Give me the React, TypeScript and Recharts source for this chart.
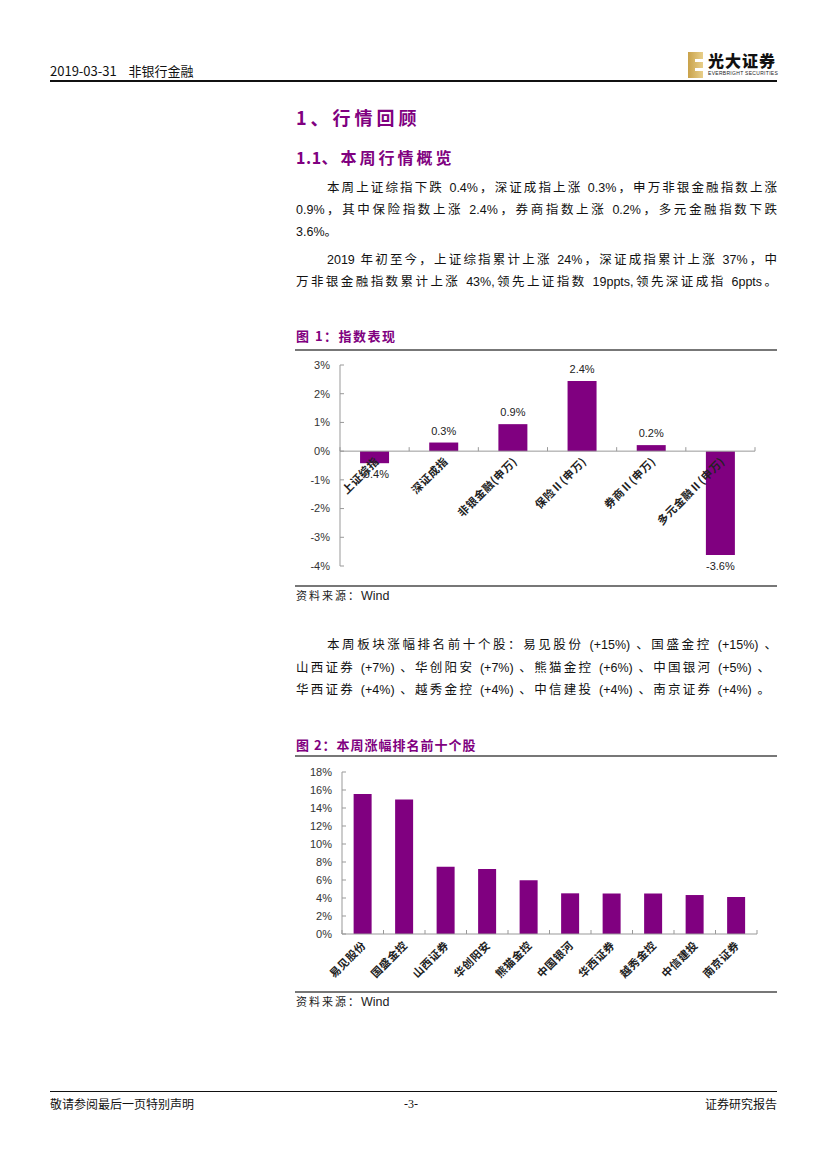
import { BarChart, Bar, XAxis, YAxis, ReferenceLine, LabelList } from "recharts";

// 图1 指数表现
const INDEX_NAMES = ["上证综指", "深证成指", "非银金融(申万)", "保险Ⅱ(申万)", "券商Ⅱ(申万)", "多元金融Ⅱ(申万)"];
const INDEX_CHANGE = [-0.42, 0.3, 0.94, 2.44, 0.21, -3.62];
const INDEX_TICKS = [-4, -3, -2, -1, 0, 1, 2, 3];

// 图2 本周涨幅排名前十个股
const STOCK_NAMES = ["易见股份", "国盛金控", "山西证券", "华创阳安", "熊猫金控", "中国银河", "华西证券", "越秀金控", "中信建投", "南京证券"];
const STOCK_CHANGE = [15.55, 14.95, 7.48, 7.22, 5.96, 4.52, 4.5, 4.5, 4.33, 4.11];
const STOCK_TICKS = [0, 2, 4, 6, 8, 10, 12, 14, 16, 18];

const PURPLE = "#800080";
const SANS = "'Liberation Sans', Arial, 'Noto Sans CJK SC', sans-serif";
const CJK = "'Noto Sans CJK SC', 'Liberation Sans', sans-serif";

const indexData = INDEX_NAMES.map((name, i) => ({ name, value: INDEX_CHANGE[i] }));
const stockData = STOCK_NAMES.map((name, i) => ({ name, value: STOCK_CHANGE[i] }));

// chart 1 geometry
const C1_W = 480;
const C1_H = 231;
const C1_MARGIN = { top: 10, right: 15, bottom: 0, left: 0 };
const C1_YW = 50;
const C1_XH = 20;
const C1_PLOT_W = C1_W - C1_MARGIN.left - C1_MARGIN.right - C1_YW;
const C1_PLOT_H = C1_H - C1_MARGIN.top - C1_MARGIN.bottom - C1_XH;
const Y1_MIN = -4;
const Y1_MAX = 3;

// chart 2 geometry
const C2_W = 480;
const C2_H = 227;
const C2_MARGIN = { top: 10, right: 13, bottom: 0, left: 0 };
const C2_YW = 52;
const C2_XH = 55;
const C2_PLOT_W = C2_W - C2_MARGIN.left - C2_MARGIN.right - C2_YW;

function IndexTick(props: any) {
  const { x, y, payload, index } = props;
  const zeroY = y - (C1_PLOT_H * (0 - Y1_MIN)) / (Y1_MAX - Y1_MIN);
  const band = C1_PLOT_W / INDEX_NAMES.length;
  const lx = x + 5;
  const ly = zeroY + 11;
  return (
    <g>
      <line x1={x - band / 2} x2={x - band / 2} y1={zeroY} y2={zeroY - 4} stroke="#999" />
      {index === INDEX_NAMES.length - 1 && (
        <line x1={x + band / 2} x2={x + band / 2} y1={zeroY} y2={zeroY - 4} stroke="#999" />
      )}
      <text
        x={lx}
        y={ly}
        textAnchor="end"
        transform={`rotate(-45, ${lx}, ${ly})`}
        fontSize={11}
        fontWeight={700}
        fontFamily={CJK}
        letterSpacing={0.5}
        fill="#222"
      >
        {payload.value}
      </text>
    </g>
  );
}

function StockTick(props: any) {
  const { x, y, payload, index } = props;
  const band = C2_PLOT_W / STOCK_NAMES.length;
  const lx = x + 4;
  const ly = y + 12;
  return (
    <g>
      <line x1={x - band / 2} x2={x - band / 2} y1={y} y2={y - 4} stroke="#999" />
      {index === STOCK_NAMES.length - 1 && (
        <line x1={x + band / 2} x2={x + band / 2} y1={y} y2={y - 4} stroke="#999" />
      )}
      <text
        x={lx}
        y={ly}
        textAnchor="end"
        transform={`rotate(-45, ${lx}, ${ly})`}
        fontSize={11}
        fontWeight={700}
        fontFamily={CJK}
        letterSpacing={0.5}
        fill="#222"
      >
        {payload.value}
      </text>
    </g>
  );
}

function ValueLabel(props: any) {
  const { x, y, width, height, value } = props;
  const top = Math.min(y, y + height);
  const bottom = Math.max(y, y + height);
  const neg = value < 0;
  return (
    <text
      x={x + width / 2}
      y={neg ? bottom + 15 : top - 8}
      textAnchor="middle"
      fontSize={11}
      fontFamily={SANS}
      fill="#222"
    >
      {value.toFixed(1)}%
    </text>
  );
}

const abs = (left: number, top: number, extra?: React.CSSProperties): React.CSSProperties => ({
  position: "absolute",
  left,
  top,
  ...extra,
});

function JLine(props: { left: number; top: number; width: number; text: string; last?: boolean }) {
  return (
    <div
      style={{
        ...abs(props.left, props.top),
        width: props.width,
        fontSize: 12.5,
        lineHeight: "22px",
        fontFamily: SANS,
        color: "#111",
        textAlign: "justify",
        textAlignLast: props.last ? "left" : "justify",
      }}
    >
      {props.text}
    </div>
  );
}

function Source(props: { top: number }) {
  return (
    <div style={abs(296, props.top, { fontSize: 11, fontFamily: CJK, color: "#222", lineHeight: "16px", letterSpacing: 2 })}>
      资料来源：<span style={{ fontFamily: SANS, fontSize: 12.5, letterSpacing: 0 }}>Wind</span>
    </div>
  );
}

export default function App() {
  return (
    <div
      lang="zh-CN"
      style={{
        position: "absolute",
        left: 0,
        top: 0,
        width: 827,
        height: 1169,
        background: "#fff",
        overflow: "hidden",
      }}
    >
      {/* header */}
      <div style={abs(50, 62, { fontSize: 13, fontFamily: CJK, color: "#111", lineHeight: "18px" })}>
        2019-03-31&nbsp;&nbsp;&nbsp;&nbsp;非银行金融
      </div>
      <div style={abs(50, 80, { width: 727, height: 2, background: "#111" })} />
      {/* logo */}
      <div style={abs(688, 52, { width: 15, height: 26, background: "linear-gradient(90deg,#c9a24a,#e8cf8a)" })}>
        <div style={abs(7, 7, { width: 8, height: 3, background: "#fff" })} />
        <div style={abs(7, 16, { width: 8, height: 3, background: "#fff" })} />
      </div>
      <div style={abs(708, 50, { fontSize: 16, fontWeight: 900, fontFamily: CJK, color: "#111", lineHeight: "20px", letterSpacing: 1 })}>
        光大证券
      </div>
      <div style={abs(708, 70, { fontSize: 5, fontFamily: SANS, color: "#222", lineHeight: "7px", letterSpacing: 0.3 })}>
        EVERBRIGHT SECURITIES
      </div>

      {/* headings */}
      <div style={abs(296, 105, { fontSize: 18, fontWeight: 700, fontFamily: CJK, color: PURPLE, lineHeight: "24px", letterSpacing: 4 })}>
        1、行情回顾
      </div>
      <div style={abs(296, 145, { fontSize: 16, fontWeight: 700, fontFamily: CJK, color: PURPLE, lineHeight: "24px", letterSpacing: 3 })}>
        <span style={{ letterSpacing: 0.5 }}>1.1</span>、本周行情概览
      </div>

      <JLine left={327} top={177} width={450} text="本周上证综指下跌 0.4%，深证成指上涨 0.3%，申万非银金融指数上涨" />
      <JLine left={296} top={199} width={481} text="0.9%，其中保险指数上涨 2.4%，券商指数上涨 0.2%，多元金融指数下跌" />
      <JLine left={296} top={221} width={481} text="3.6%。" last />
      <JLine left={327} top={249} width={450} text="2019 年初至今，上证综指累计上涨 24%，深证成指累计上涨 37%，中" />
      <JLine left={296} top={271} width={481} text="万非银金融指数累计上涨 43%,领先上证指数 19ppts,领先深证成指 6ppts。" />

      {/* figure 1 */}
      <div style={abs(296, 327, { fontSize: 13, fontWeight: 700, fontFamily: CJK, color: PURPLE, lineHeight: "18px", letterSpacing: 1.5 })}>
        图 1：指数表现
      </div>
      <div style={abs(295, 349, { width: 482, height: 2, background: "#777" })} />
      <div style={abs(290, 355)}>
        <BarChart width={C1_W} height={C1_H} data={indexData} margin={C1_MARGIN} barCategoryGap="29%">
          <XAxis
            dataKey="name"
            height={C1_XH}
            axisLine={false}
            tickLine={false}
            tickSize={0}
            tickMargin={0}
            interval={0}
            tick={<IndexTick />}
          />
          <YAxis
            width={C1_YW}
            domain={[Y1_MIN, Y1_MAX]}
            ticks={INDEX_TICKS}
            tickFormatter={(v: number) => `${v}%`}
            axisLine={{ stroke: "#999" }}
            tickLine={{ stroke: "#999" }}
            tickSize={-4}
            tickMargin={14}
            tick={{ fontSize: 11, fontFamily: SANS, fill: "#333" }}
            allowDataOverflow
          />
          <ReferenceLine y={0} stroke="#999" />
          <Bar dataKey="value" fill={PURPLE} isAnimationActive={false}>
            <LabelList dataKey="value" content={<ValueLabel />} />
          </Bar>
        </BarChart>
      </div>
      <div style={abs(295, 585, { width: 482, height: 2, background: "#777" })} />
      <Source top={587} />

      <JLine left={327} top={634} width={450} text="本周板块涨幅排名前十个股：易见股份 (+15%) 、国盛金控 (+15%) 、" />
      <JLine left={296} top={657} width={474} text="山西证券 (+7%) 、华创阳安 (+7%) 、熊猫金控 (+6%) 、中国银河 (+5%) 、" />
      <JLine left={296} top={679} width={474} text="华西证券 (+4%) 、越秀金控 (+4%) 、中信建投 (+4%) 、南京证券 (+4%) 。" />

      {/* figure 2 */}
      <div style={abs(296, 736, { fontSize: 13, fontWeight: 700, fontFamily: CJK, color: PURPLE, lineHeight: "18px", letterSpacing: 1 })}>
        图 2：本周涨幅排名前十个股
      </div>
      <div style={abs(295, 755, { width: 482, height: 2, background: "#777" })} />
      <div style={abs(290, 762)}>
        <BarChart width={C2_W} height={C2_H} data={stockData} margin={C2_MARGIN} barCategoryGap="28%">
          <XAxis
            dataKey="name"
            height={C2_XH}
            axisLine={{ stroke: "#999" }}
            tickLine={false}
            tickSize={0}
            tickMargin={0}
            interval={0}
            tick={<StockTick />}
          />
          <YAxis
            width={C2_YW}
            domain={[0, 18]}
            ticks={STOCK_TICKS}
            tickFormatter={(v: number) => `${v}%`}
            axisLine={{ stroke: "#999" }}
            tickLine={{ stroke: "#999" }}
            tickSize={-4}
            tickMargin={14}
            tick={{ fontSize: 11, fontFamily: SANS, fill: "#333" }}
          />
          <Bar dataKey="value" fill={PURPLE} isAnimationActive={false} />
        </BarChart>
      </div>
      <div style={abs(295, 991, { width: 482, height: 2, background: "#777" })} />
      <Source top={993} />

      {/* footer */}
      <div style={abs(50, 1091, { width: 727, height: 1, background: "#111" })} />
      <div style={abs(50, 1096, { fontSize: 12, fontFamily: CJK, color: "#111", lineHeight: "16px" })}>
        敬请参阅最后一页特别声明
      </div>
      <div style={abs(404, 1096, { fontSize: 12, fontFamily: "'Liberation Serif', serif", color: "#111", lineHeight: "16px" })}>
        -3-
      </div>
      <div style={abs(677, 1096, { width: 100, textAlign: "right", fontSize: 12, fontFamily: CJK, color: "#111", lineHeight: "16px" })}>
        证券研究报告
      </div>
    </div>
  );
}
